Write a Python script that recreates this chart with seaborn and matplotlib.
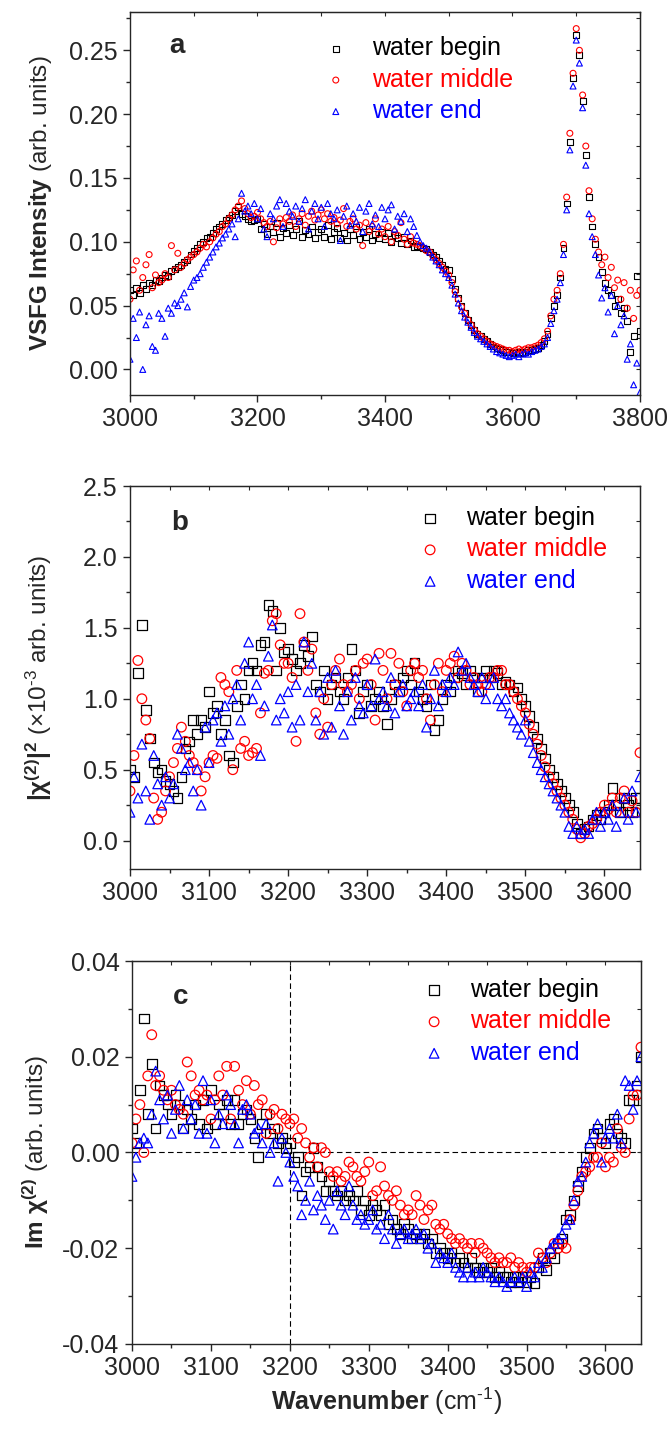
import numpy as np
import matplotlib
matplotlib.use("Agg")
import matplotlib.pyplot as plt
from matplotlib.ticker import MultipleLocator, FormatStrFormatter
import seaborn as sns

# wavenumber grids (cm-1)
wn_a = np.arange(3000, 3801, 5)
wn_bc = np.arange(3000, 3646, 5)

# panel a: VSFG intensity, in units of 1e-3 (arb. units)
vsfg_begin = [
    62, 58, 64, 60, 66, 63, 68, 66, 70, 69,
    72, 74, 73, 77, 79, 80, 82, 84, 86, 90,
    93, 95, 98, 100, 103, 104, 107, 110, 112, 114,
    117, 119, 121, 124, 127, 122, 120, 118, 116, 117,
    118, 110, 114, 106, 112, 108, 115, 104, 111, 107,
    113, 105, 110, 116, 104, 109, 106, 112, 103, 108,
    110, 104, 113, 102, 108, 111, 103, 107, 101, 110,
    105, 112, 102, 108, 104, 110, 101, 106, 103, 108,
    102, 107, 100, 105, 103, 99, 104, 98, 101, 96,
    97, 96, 95, 94, 92, 90, 88, 85, 82, 79,
    78, 71, 63, 56, 50, 44, 39, 35, 31, 28,
    26, 24, 22, 20, 18, 17, 16, 15, 14, 14,
    13, 13, 14, 13, 14, 15, 15, 16, 17, 19,
    22, 28, 40, 50, 58, 72, 95, 130, 178, 228,
    262, 246, 210, 168, 135, 112, 98, 88, 76, 68,
    62, 58, 50, 55, 44, 48, 38, 14, 26, 73,
    30,
]
vsfg_middle = [
    55, 78, 85, 62, 72, 82, 90, 64, 74, 68,
    70, 75, 72, 97, 78, 91, 80, 83, 86, 88,
    90, 92, 95, 98, 96, 100, 103, 106, 108, 112,
    114, 118, 121, 125, 128, 132, 126, 122, 119, 120,
    123, 118, 115, 112, 116, 100, 111, 118, 114, 119,
    116, 121, 112, 118, 122, 113, 120, 124, 117, 121,
    125, 118, 122, 116, 119, 114, 117, 126, 112, 116,
    118, 110, 113, 97, 115, 108, 112, 118, 106, 110,
    104, 112, 100, 108, 105, 115, 102, 98, 104, 99,
    98, 97, 95, 93, 92, 89, 86, 83, 80, 77,
    74, 68, 61, 55, 49, 44, 39, 35, 31, 28,
    26, 24, 22, 20, 19, 18, 17, 16, 15, 15,
    14, 15, 16, 15, 16, 17, 17, 18, 19, 21,
    24, 30, 42, 55, 62, 75, 98, 135, 185, 232,
    267, 250, 215, 175, 140, 118, 102, 92, 82, 88,
    72, 80, 64, 70, 55, 68, 48, 62, 40, 58,
    62,
]
vsfg_end = [
    8, 40, 25, 45, 0, 35, 42, 18, 15, 44,
    40, 26, 48, 44, 52, 50, 55, 60, 49, 65,
    70, 72, 75, 80, 84, 88, 92, 96, 99, 103,
    106, 110, 114, 104, 118, 138, 124, 128, 122, 130,
    118, 126, 110, 104, 122, 118, 128, 133, 112, 130,
    124, 120, 128, 116, 126, 133, 110, 124, 130, 118,
    127, 112, 130, 122, 118, 125, 101, 120, 128, 113,
    122, 116, 127, 108, 124, 130, 114, 121, 112, 127,
    118, 125, 129, 110, 120, 116, 122, 108, 118, 112,
    105, 100, 97, 95, 92, 88, 85, 82, 78, 75,
    72, 66, 59, 52, 46, 41, 37, 33, 29, 26,
    24, 22, 20, 18, 16, 14, 13, 12, 11, 10,
    11, 12, 10, 12, 13, 12, 14, 15, 16, 18,
    20, 25, 36, 46, 55, 68, 90, 125, 172, 222,
    258, 240, 205, 160, 122, 104, 90, 74, 56, 64,
    45, 58, 28, 50, 35, 42, 8, 20, -12, 5,
    -18,
]

# panel b: |chi2|^2, in units of 1e-2 (x1e-3 arb. units)
chi2_begin = [
    50, 45, 118, 152, 92, 72, 55, 48, 50, 42,
    40, 35, 30, 45, 65, 70, 85, 75, 85, 80,
    105, 90, 95, 75, 85, 60, 55, 95, 110, 100,
    120, 125, 120, 138, 140, 166, 162, 120, 150, 133,
    135, 128, 120, 125, 138, 130, 144, 110, 105, 120,
    100, 110, 115, 105, 100, 115, 135, 120, 90, 105,
    110, 95, 100, 105, 95, 82, 100, 110, 105, 115,
    120, 110, 125, 105, 100, 95, 110, 78, 85, 100,
    110, 105, 115, 120, 118, 110, 120, 115, 105, 115,
    120, 115, 120, 118, 110, 112, 110, 105, 108, 100,
    95, 88, 80, 72, 65, 58, 50, 45, 40, 35,
    30, 25, 20, 12, 5, 8, 10, 15, 18, 15,
    20, 25, 37, 25, 20, 30, 25, 20, 30, 30,
]
chi2_middle = [
    35, 60, 127, 100, 85, 72, 30, 15, 20, 35,
    45, 55, 65, 80, 70, 60, 55, 50, 35, 45,
    55, 60, 58, 115, 110, 105, 50, 120, 65, 70,
    60, 62, 65, 90, 118, 120, 155, 160, 138, 125,
    125, 115, 70, 160, 140, 120, 135, 90, 75, 100,
    80, 110, 120, 128, 110, 105, 110, 120, 100, 125,
    128, 110, 85, 132, 120, 100, 132, 110, 125, 105,
    95, 120, 125, 115, 120, 100, 85, 110, 125, 105,
    120, 125, 130, 115, 125, 120, 110, 115, 110, 105,
    110, 115, 115, 120, 120, 110, 110, 105, 100, 95,
    90, 82, 75, 68, 60, 52, 45, 40, 35, 30,
    25, 20, 15, 8, 2, 5, 10, 12, 15, 20,
    25, 22, 30, 20, 30, 35, 20, 28, 20, 62,
]
chi2_end = [
    20, 45, 30, 68, 35, 15, 60, 40, 25, 45,
    30, 40, 75, 65, 50, 55, 35, 50, 25, 80,
    55, 85, 90, 70, 95, 75, 100, 110, 85, 125,
    140, 100, 110, 60, 95, 130, 152, 85, 100, 90,
    105, 80, 110, 85, 140, 105, 125, 85, 105, 75,
    115, 80, 120, 95, 75, 105, 85, 115, 95, 90,
    110, 95, 128, 100, 105, 95, 115, 90, 105, 110,
    95, 100, 105, 95, 110, 80, 100, 120, 95, 110,
    105, 115, 110, 133, 120, 125, 115, 110, 105, 115,
    100, 110, 115, 100, 95, 100, 90, 85, 80, 75,
    85, 70, 62, 55, 50, 45, 40, 35, 30, 25,
    20, 10, 5, 10, 5, 8, 5, 15, 20, 10,
    20, 15, 25, 10, 20, 30, 15, 35, 20, 45,
]

# panel c: Im chi2, in units of 1e-4 (arb. units)
imchi_begin = [
    50, 20, 130, 280, 80, 185, 50, 140, 120, 100,
    80, 120, 100, 50, 90, 70, 100, 60, 110, 50,
    130, 60, 100, 80, 110, 60, 110, 60, 80, 90,
    70, 30, -10, 60, 80, 40, 50, 20, 30, 10,
    20, -20, -10, -90, -40, -30, 10, -30, -50, -80,
    -60, -80, -90, -80, -100, -90, -100, -80, -120, -100,
    -130, -110, -120, -130, -110, -150, -140, -160, -170, -150,
    -160, -180, -170, -180, -170, -190, -180, -210, -200, -210,
    -220, -210, -230, -220, -230, -240, -220, -240, -250, -240,
    -250, -240, -260, -250, -260, -260, -270, -260, -270, -260,
    -270, -260, -272, -240, -220, -246, -210, -220, -190, -180,
    -140, -130, -100, -70, -40, -10, 10, 40, 50, 30,
    20, 60, 70, 40, 30, 20, 110, 110, 140, 200,
]
imchi_middle = [
    20, 70, 100, 0, 160, 246, 140, 160, 130, 110,
    130, 100, 90, 80, 189, 160, 120, 130, 110, 120,
    70, 110, 160, 120, 180, 70, 180, 130, 100, 150,
    80, 140, 100, 110, 40, 80, 90, 50, 80, 70,
    60, 70, 30, 50, 20, -10, 10, -30, 10, 0,
    -40, -50, -40, -60, -50, -20, -30, -50, -60, -40,
    -20, -90, -80, -30, -70, -90, -100, -80, -110, -130,
    -120, -130, -90, -110, -140, -120, -110, -150, -160, -150,
    -170, -180, -190, -180, -190, -200, -190, -210, -190, -200,
    -210, -220, -230, -220, -230, -230, -220, -240, -230, -240,
    -250, -240, -240, -210, -220, -230, -210, -190, -200, -190,
    -200, -140, -110, -80, -50, -40, -30, -10, -10, 20,
    -30, -10, -20, 50, 10, 0, 70, 120, 120, 220,
]
imchi_end = [
    -50, -10, 20, 30, 20, 80, 170, 110, 70, 120,
    40, 90, 140, 50, 110, 70, 100, 40, 150, 40,
    110, 20, 80, 60, 120, 100, 60, 20, 90, 100,
    80, 40, 50, 20, 60, 0, 20, -60, 30, 0,
    -20, -50, -70, -130, -100, -60, -120, -90, -110, -140,
    -100, -160, -80, -110, -130, -70, -110, -140, -130, -150,
    -140, -120, -160, -150, -180, -130, -160, -190, -170, -160,
    -180, -170, -160, -180, -170, -200, -190, -230, -210, -220,
    -230, -210, -240, -250, -260, -240, -260, -250, -260, -240,
    -250, -260, -270, -260, -270, -280, -270, -260, -270, -260,
    -280, -250, -260, -230, -240, -220, -200, -190, -180, -170,
    -150, -140, -100, -60, -50, -20, 20, 40, 60, -20,
    30, 50, 30, 80, 20, 150, 140, 90, 150, 200,
]

labels = ["water begin", "water middle", "water end"]
colors = ["black", "red", "blue"]
markers = ["s", "o", "^"]

sns.set_style("ticks")
plt.rcParams["font.family"] = ["Liberation Sans", "DejaVu Sans"]
plt.rcParams["mathtext.fontset"] = "custom"
plt.rcParams["mathtext.rm"] = "Liberation Sans"
plt.rcParams["mathtext.it"] = "Liberation Sans:italic"
plt.rcParams["mathtext.bf"] = "Liberation Sans:bold"
plt.rcParams["axes.unicode_minus"] = False


def scatter_panel(ax, x, ys, size, lw):
    for y, lab, col, mk in zip(ys, labels, colors, markers):
        sns.scatterplot(x=x, y=y, ax=ax, marker=mk, s=size, color=col,
                        facecolor="none", edgecolor=col, linewidth=lw, label=lab)


def style_axes(ax, xlim, ylim, xmaj, xmin, ymaj, ymin, yfmt):
    ax.set_xlim(*xlim)
    ax.set_ylim(*ylim)
    ax.xaxis.set_major_locator(MultipleLocator(xmaj))
    ax.xaxis.set_minor_locator(MultipleLocator(xmin))
    ax.yaxis.set_major_locator(MultipleLocator(ymaj))
    ax.yaxis.set_minor_locator(MultipleLocator(ymin))
    ax.yaxis.set_major_formatter(FormatStrFormatter(yfmt))
    ax.tick_params(which="major", direction="out", length=5, width=1, labelsize=18, pad=4)
    ax.tick_params(which="minor", direction="out", length=3, width=1)
    for sp in ax.spines.values():
        sp.set_linewidth(1.0)
        sp.set_visible(True)
    # inward ticks mirrored on top and right
    top = ax.secondary_xaxis("top")
    top.xaxis.set_major_locator(MultipleLocator(xmaj))
    top.xaxis.set_minor_locator(MultipleLocator(xmin))
    top.tick_params(which="both", direction="in", length=3, width=0.8, labeltop=False)
    right = ax.secondary_yaxis("right")
    right.yaxis.set_major_locator(MultipleLocator(ymaj))
    right.yaxis.set_minor_locator(MultipleLocator(ymin))
    right.tick_params(which="both", direction="in", length=3, width=0.8, labelright=False)


def add_legend(ax, x0, y0):
    handles, labs = ax.get_legend_handles_labels()
    ax.legend(handles, labs, loc="upper left", bbox_to_anchor=(x0, y0),
              frameon=False, fontsize=18, labelcolor=colors,
              handlelength=1.0, handletextpad=0.95, labelspacing=0.3,
              borderpad=0, borderaxespad=0)


fig = plt.figure(figsize=(6.67, 14.29), dpi=100)
ax_a = fig.add_axes([0.1949, 0.7236, 0.7646, 0.268])
ax_b = fig.add_axes([0.1949, 0.3919, 0.7646, 0.268])
ax_c = fig.add_axes([0.1979, 0.0595, 0.7631, 0.268])

# panel a
scatter_panel(ax_a, wn_a, [np.array(v) / 1000 for v in (vsfg_begin, vsfg_middle, vsfg_end)], 18, 0.8)
style_axes(ax_a, (3000, 3800), (-0.02, 0.28), 200, 100, 0.05, 0.025, "%.2f")
ax_a.set_xlabel("")
ax_a.set_ylabel(r"$\mathbf{VSFG\ Intensity}$ (arb. units)", fontsize=17.5)
ax_a.yaxis.set_label_coords(-0.15, 0.5)
ax_a.text(0.077, 0.91, "a", transform=ax_a.transAxes, fontsize=20, fontweight="bold", va="center")
add_legend(ax_a, 0.379, 0.937)

# panel b
scatter_panel(ax_b, wn_bc, [np.array(v) / 100 for v in (chi2_begin, chi2_middle, chi2_end)], 48, 0.9)
style_axes(ax_b, (3000, 3645), (-0.2, 2.5), 100, 50, 0.5, 0.25, "%.1f")
ax_b.set_xlabel("")
ax_b.set_ylabel(r"$\mathbf{|\chi^{(2)}|^2}$ (×10$^{\text{-3}}$ arb. units)", fontsize=17.5)
ax_b.yaxis.set_label_coords(-0.15, 0.5)
ax_b.text(0.08, 0.903, "b", transform=ax_b.transAxes, fontsize=20, fontweight="bold", va="center")
add_legend(ax_b, 0.564, 0.948)

# panel c
ax_c.axhline(0, color="black", lw=0.8, ls=(0, (5, 3)), zorder=0)
ax_c.axvline(3200, color="black", lw=0.8, ls=(0, (5, 3)), zorder=0)
scatter_panel(ax_c, wn_bc, [np.array(v) / 10000 for v in (imchi_begin, imchi_middle, imchi_end)], 48, 0.9)
style_axes(ax_c, (3000, 3645), (-0.04, 0.04), 100, 50, 0.02, 0.01, "%.2f")
ax_c.set_xlabel(r"$\mathbf{Wavenumber}$ (cm$^{\text{-1}}$)", fontsize=18)
ax_c.set_ylabel(r"$\mathbf{Im\ \chi^{(2)}}$ (arb. units)", fontsize=17.5)
ax_c.yaxis.set_label_coords(-0.16, 0.5)
ax_c.text(0.08, 0.906, "c", transform=ax_c.transAxes, fontsize=20, fontweight="bold", va="center")
add_legend(ax_c, 0.569, 0.956)

fig.savefig("out.png", dpi=100)
